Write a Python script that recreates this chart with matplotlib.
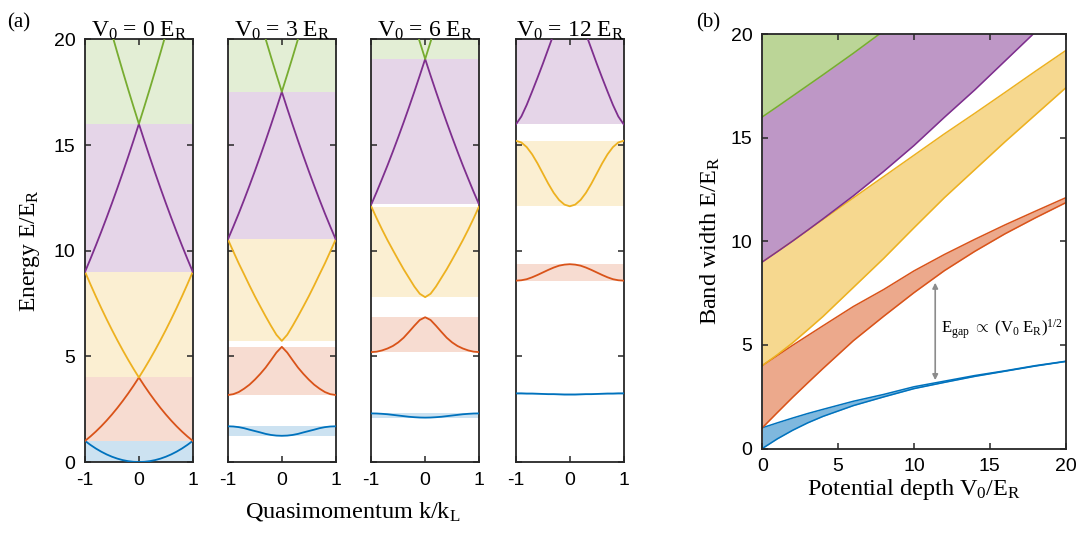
import numpy as np
import matplotlib.pyplot as plt

plt.rcParams['font.family'] = ['Liberation Serif', 'DejaVu Serif']
plt.rcParams['mathtext.fontset'] = 'custom'
plt.rcParams['mathtext.rm'] = 'Liberation Serif'
plt.rcParams['mathtext.it'] = 'Liberation Serif:italic'
plt.rcParams['axes.unicode_minus'] = False

# quasimomentum samples for k >= 0 (bands are symmetric in k)
k_half = [0.0, 0.1, 0.2, 0.3, 0.4, 0.5, 0.6, 0.7, 0.8, 0.9, 1.0]

depths = [0, 3, 6, 12]

# band energies E/E_R at k_half, lowest band first
bands_v0 = [
    [0.00, 0.01, 0.04, 0.09, 0.16, 0.25, 0.36, 0.49, 0.64, 0.81, 1.00],
    [4.00, 3.61, 3.24, 2.89, 2.56, 2.25, 1.96, 1.69, 1.44, 1.21, 1.00],
    [4.00, 4.41, 4.84, 5.29, 5.76, 6.25, 6.76, 7.29, 7.84, 8.41, 9.00],
    [16.00, 15.21, 14.44, 13.69, 12.96, 12.25, 11.56, 10.89, 10.24, 9.61, 9.00],
    [16.00, 16.81, 17.64, 18.49, 19.36, 20.25],
]
bands_v3 = [
    [1.24, 1.25, 1.28, 1.33, 1.40, 1.465, 1.53, 1.60, 1.65, 1.68, 1.69],
    [5.45, 5.18, 4.82, 4.47, 4.17, 3.90, 3.66, 3.47, 3.31, 3.21, 3.17],
    [5.73, 6.02, 6.44, 6.89, 7.36, 7.84, 8.35, 8.88, 9.40, 9.96, 10.53],
    [17.52, 16.73, 15.96, 15.21, 14.48, 13.77, 13.08, 12.41, 11.76, 11.14, 10.54],
    [17.52, 18.33, 19.16, 20.01, 20.88],
]
bands_v6 = [
    [2.10, 2.105, 2.12, 2.14, 2.17, 2.20, 2.23, 2.26, 2.28, 2.295, 2.30],
    [6.85, 6.72, 6.45, 6.16, 5.88, 5.66, 5.49, 5.37, 5.28, 5.22, 5.20],
    [7.80, 7.96, 8.30, 8.71, 9.12, 9.57, 10.03, 10.50, 11.00, 11.53, 12.09],
    [19.07, 18.29, 17.53, 16.79, 16.07, 15.37, 14.69, 14.03, 13.40, 12.78, 12.19],
    [19.07, 19.88, 20.71],
]
bands_v12 = [
    [3.19, 3.19, 3.20, 3.21, 3.21, 3.22, 3.23, 3.24, 3.24, 3.25, 3.25],
    [9.36, 9.34, 9.29, 9.20, 9.09, 8.97, 8.85, 8.74, 8.65, 8.60, 8.58],
    [12.10, 12.18, 12.40, 12.74, 13.17, 13.65, 14.13, 14.56, 14.90, 15.12, 15.20],
    [22.00, 21.60, 20.95, 20.25, 19.55, 18.85, 18.18, 17.53, 16.90, 16.35, 15.98],
]

# band edges vs lattice depth
depth_b = [0, 1, 2, 3, 4, 6, 8, 10, 12, 14, 16, 18, 20]
band1_lo = [0.00, 0.47, 0.88, 1.24, 1.55, 2.07, 2.49, 2.89, 3.19, 3.48, 3.73, 3.98, 4.20]
band1_hi = [1.00, 1.24, 1.47, 1.69, 1.89, 2.28, 2.61, 2.98, 3.25, 3.52, 3.75, 4.00, 4.21]
band2_lo = [1.00, 1.74, 2.47, 3.17, 3.86, 5.20, 6.38, 7.52, 8.58, 9.51, 10.36, 11.13, 11.86]
band2_hi = [4.00, 4.49, 4.98, 5.45, 5.92, 6.85, 7.67, 8.57, 9.36, 10.09, 10.79, 11.45, 12.10]
band3_lo = [4.00, 4.53, 5.10, 5.73, 6.37, 7.77, 9.17, 10.65, 12.10, 13.45, 14.80, 16.10, 17.40]
band3_hi = [9.00, 9.50, 10.01, 10.53, 11.05, 12.09, 13.12, 14.15, 15.18, 16.17, 17.18, 18.20, 19.20]
band4_lo = [9.00, 9.50, 10.01, 10.54, 11.08, 12.19, 13.37, 14.62, 15.98, 17.30, 18.70, 20.10, 21.50]
depth_b5 = [0, 1, 2, 3, 4, 6, 8]
band5_lo = [16.00, 16.50, 17.01, 17.52, 18.03, 19.07, 20.15]

colors = ['#0072BD', '#D95319', '#EDB120', '#7E2F8E', '#77AC30']
fills_b = ['#7FB8DE', '#ECA98C', '#F6D88F', '#BE97C6', '#BBD597']
frame = '#262626'


def style_axes(ax):
    for s in ax.spines.values():
        s.set_color(frame)
        s.set_linewidth(1.3)
    ax.tick_params(direction='in', length=4, width=1.1, color=frame,
                   top=True, right=True, labelsize=14, pad=7)
    for lab in ax.get_xticklabels() + ax.get_yticklabels():
        lab.set_fontfamily('Liberation Sans')


fig = plt.figure(figsize=(10.86, 5.33), dpi=100)

lefts = [0.0783, 0.2099, 0.3419, 0.4751]
all_bands = [bands_v0, bands_v3, bands_v6, bands_v12]
kh = np.array(k_half)

for i, (v0, bands) in enumerate(zip(depths, all_bands)):
    ax = fig.add_axes([lefts[i], 0.1332, 0.0992, 0.793])
    for j, e in enumerate(bands):
        e = np.array(e)
        kk = kh[:len(e)]
        k_full = np.concatenate([-kk[::-1], kk[1:]])
        e_full = np.concatenate([e[::-1], e[1:]])
        ax.axhspan(e.min(), e.max(), color=colors[j], alpha=0.2, lw=0, zorder=1)
        ax.plot(k_full, e_full, color=colors[j], lw=1.3, zorder=3)
    ax.set_xlim(-1, 1)
    ax.set_ylim(0, 20)
    ax.set_xticks([-1, 0, 1])
    ax.set_yticks([0, 5, 10, 15, 20])
    style_axes(ax)
    if i > 0:
        ax.tick_params(labelleft=False)
    else:
        ax.set_ylabel(r'Energy E/E$_\mathrm{R}$', fontsize=17, labelpad=8)
    ax.set_title(r'V$_\mathrm{0}$ = %d E$_\mathrm{R}$' % v0, fontsize=17, pad=2)

fig.text(0.325, 0.03, r'Quasimomentum k/k$_\mathrm{L}$', fontsize=17.5, ha='center')
fig.text(0.007, 0.975, '(a)', fontsize=15, va='top')
fig.text(0.641, 0.975, '(b)', fontsize=15, va='top')

# band widths vs lattice depth
axb = fig.add_axes([0.7019, 0.1585, 0.2794, 0.7777])
v = np.array(depth_b)
axb.fill_between(v, band4_lo, 20, color=fills_b[3], lw=0)
axb.fill_between(depth_b5, band5_lo, 20, color=fills_b[4], lw=0)
axb.fill_between(v, band3_lo, band3_hi, color=fills_b[2], lw=0)
axb.fill_between(v, band2_lo, band2_hi, color=fills_b[1], lw=0)
axb.fill_between(v, band1_lo, band1_hi, color=fills_b[0], lw=0)
edges = [(band1_lo, 0), (band1_hi, 0), (band2_lo, 1), (band2_hi, 1),
         (band3_lo, 2), (band3_hi, 2), (band4_lo, 3)]
for e, c in edges:
    axb.plot(v, e, color=colors[c], lw=1.1)
axb.plot(depth_b5, band5_lo, color=colors[4], lw=1.1)

axb.annotate('', xy=(11.4, 8.0), xytext=(11.4, 3.3),
             arrowprops=dict(arrowstyle='<|-|>', color='#8c8c8c', lw=1.2,
                             mutation_scale=8, shrinkA=0, shrinkB=0))
axb.text(11.75, 5.75, r'E$_\mathrm{gap}$ $\propto$ (V$_\mathrm{0}$ E$_\mathrm{R}$)$^\mathrm{1/2}$',
         fontsize=12, va='center')

axb.set_xlim(0, 20)
axb.set_ylim(0, 20)
axb.set_xticks([0, 5, 10, 15, 20])
axb.set_yticks([0, 5, 10, 15, 20])
style_axes(axb)
axb.set_xlabel(r'Potential depth V$_\mathrm{0}$/E$_\mathrm{R}$', fontsize=17.5, labelpad=1)
axb.set_ylabel(r'Band width E/E$_\mathrm{R}$', fontsize=17.5, labelpad=6)

fig.savefig('out.png', dpi=100)
